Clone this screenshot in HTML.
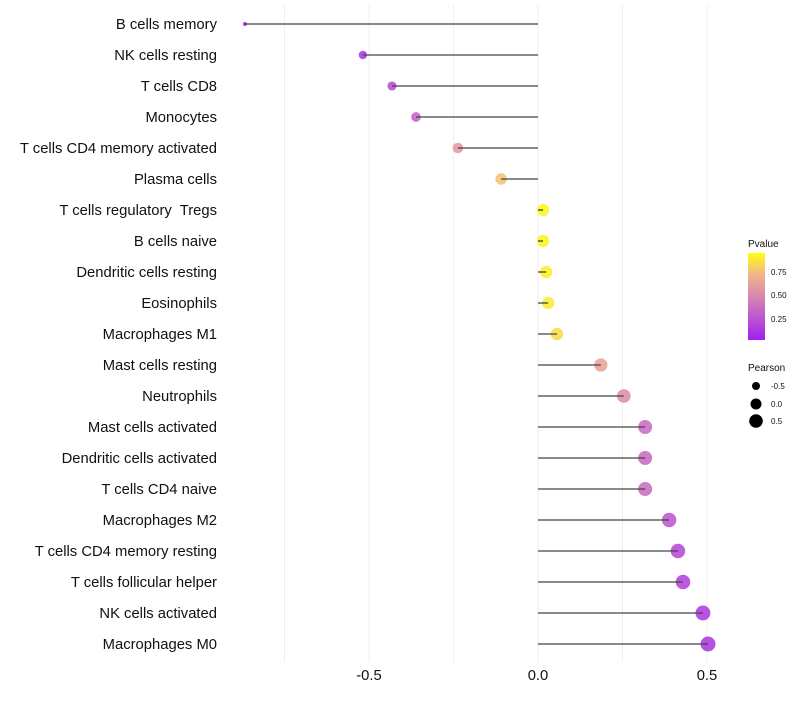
<!DOCTYPE html>
<html><head><meta charset="utf-8"><style>
body{margin:0;background:#fff;font-family:"Liberation Sans",sans-serif}
text{white-space:pre}
</style></head><body>
<svg id="chart" width="800" height="700" xmlns="http://www.w3.org/2000/svg" xml:space="preserve">
<defs><linearGradient id="pg" x1="0" y1="1" x2="0" y2="0">
<stop offset="0" stop-color="#a020f0"/><stop offset="0.5" stop-color="#d887b0"/><stop offset="0.75" stop-color="#f2b48a"/><stop offset="1" stop-color="#ffff10"/></linearGradient></defs>
<g id="grid"></g><g id="marks"></g><g id="labels"></g>
<g font-size="10" fill="#111">
<text x="748" y="247">Pvalue</text>
<rect x="748" y="253" width="17" height="87" fill="url(#pg)"/>
<text x="771" y="275" font-size="8">0.75</text>
<text x="771" y="298" font-size="8">0.50</text>
<text x="771" y="322" font-size="8">0.25</text>
</g>
<g fill="#111">
<text x="748" y="371" font-size="10">Pearson</text>
<circle cx="756" cy="386" r="4" fill="#000"/>
<circle cx="756" cy="404" r="5.5" fill="#000"/>
<circle cx="756" cy="421" r="6.8" fill="#000"/>
<text x="771" y="389" font-size="8">-0.5</text>
<text x="771" y="407" font-size="8">0.0</text>
<text x="771" y="424" font-size="8">0.5</text>
</g>
</svg>
<script>
const categories=["B cells memory","NK cells resting","T cells CD8","Monocytes","T cells CD4 memory activated","Plasma cells","T cells regulatory  Tregs","B cells naive","Dendritic cells resting","Eosinophils","Macrophages M1","Mast cells resting","Neutrophils","Mast cells activated","Dendritic cells activated","T cells CD4 naive","Macrophages M2","T cells CD4 memory resting","T cells follicular helper","NK cells activated","Macrophages M0"];
const pearson=[-0.867,-0.518,-0.432,-0.361,-0.237,-0.109,0.015,0.015,0.024,0.03,0.056,0.186,0.254,0.317,0.317,0.317,0.388,0.414,0.429,0.488,0.503];
const pvalues=[0.01,0.1,0.22,0.32,0.6,0.8,0.97,0.97,0.95,0.93,0.88,0.65,0.55,0.37,0.37,0.37,0.26,0.2,0.17,0.13,0.12];
const xTicks=[-0.5,0,0.5];
const xTickLabels=["-0.5","0.0","0.5"];
const gridVals=[-0.75,-0.5,-0.25,0,0.25,0.5];
const NS="http://www.w3.org/2000/svg";
const x=v=>538+v*338;
const y=i=>24+i*31;
function col(p){const st=[[0,[160,32,240]],[0.5,[216,135,176]],[0.75,[242,180,138]],[1,[255,255,16]]];
for(let k=1;k<st.length;k++){if(p<=st[k][0]){const a=st[k-1],b=st[k],t=(p-a[0])/(b[0]-a[0]);return "rgb("+a[1].map((c,j)=>Math.round(c+(b[1][j]-c)*t)).join(",")+")";}}return "rgb(255,255,16)";}
const rad=v=>Math.sqrt(Math.max(2,4+(v+0.87)/1.37*52));
function mk(t,a,p){const e=document.createElementNS(NS,t);for(const k in a)e.setAttribute(k,a[k]);p.appendChild(e);return e;}
const g=document.getElementById('grid'),m=document.getElementById('marks'),l=document.getElementById('labels');
gridVals.forEach(v=>{const e=mk('line',{x1:x(v),x2:x(v),y1:5,y2:662,stroke:'#efefef','stroke-width':1},g);

});
categories.forEach((c,i)=>{const v=pearson[i];
const ci=mk('circle',{cx:x(v),cy:y(i),r:rad(v),fill:col(pvalues[i]),'fill-opacity':0.88},m);


const s=mk('line',{x1:x(0),x2:x(v),y1:y(i),y2:y(i),stroke:'#444','stroke-width':1.3},m);


const t=mk('text',{x:217,y:y(i)+5,'text-anchor':'end','font-size':14.8,fill:'#111'},l);t.textContent=c;

});
xTicks.forEach((v,i)=>{const t=mk('text',{x:x(v),y:680,'text-anchor':'middle','font-size':14.8,fill:'#111'},l);t.textContent=xTickLabels[i];

});
</script>
</body></html>
